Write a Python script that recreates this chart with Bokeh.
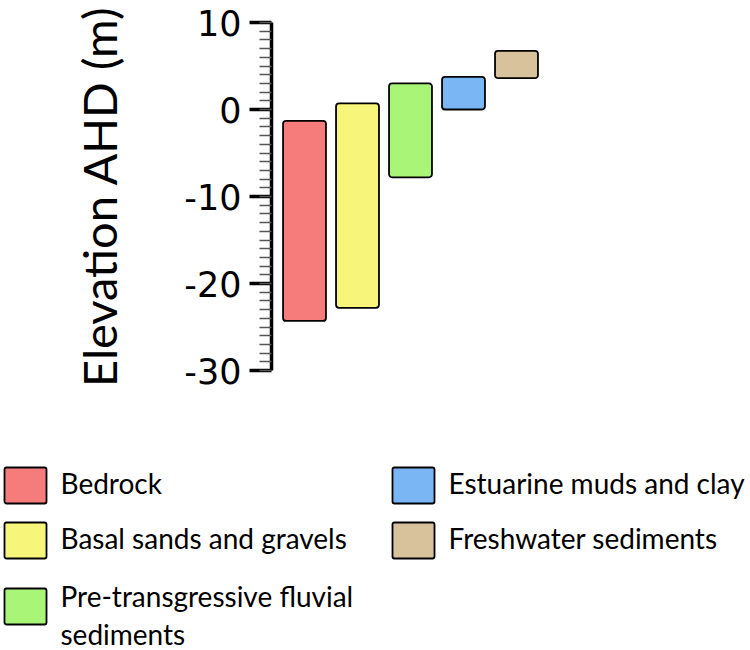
from bokeh.plotting import figure
from bokeh.models import Range1d, FixedTicker
from bokeh.core.properties import value
from bokeh.embed import file_html
from bokeh.resources import INLINE

# ---- data ----
units = ["Bedrock", "Basal sands and gravels", "Pre-transgressive fluvial\nsediments",
         "Estuarine muds and clay", "Freshwater sediments"]
unit_top = [-1.3, 0.7, 3.0, 3.75, 6.75]
unit_bottom = [-24.3, -22.8, -7.8, 0.0, 3.6]
colors = ["#F67B7B", "#F8F67A", "#A8F578", "#7AB6F4", "#D8C29C"]
y_ticks = [-30, -20, -10, 0, 10]
y_minor = list(range(-30, 11))
legend_col = [0, 0, 0, 1, 1]
legend_row = [0, 1, 2, 0, 1]

W = 748
TOP_H = 400
TOTAL_H = 650
FONT = "Lato"

# ---- chart ----
xs = [i + 1 for i in range(len(units))]
p = figure(width=W, height=TOP_H, output_backend="svg", toolbar_location=None,
           x_range=Range1d(0.377, 6.038), y_range=Range1d(-30, 10),
           min_border_left=271, min_border_right=W - 571, min_border_top=22,
           min_border_bottom=TOP_H - 22 - 348)
p.vbar(x=xs, width=0.81, top=unit_top, bottom=unit_bottom, fill_color=colors,
       line_color="black", line_width=1.8, border_radius=3)
p.xaxis.visible = False
p.grid.visible = False
p.outline_line_color = None
ya = p.yaxis[0]
ya.ticker = FixedTicker(ticks=y_ticks, minor_ticks=y_minor)
ya.major_label_overrides = {t: str(t) for t in y_ticks}
ya.axis_line_width = 3.5
ya.axis_line_color = "black"
ya.major_tick_line_width = 3.5
ya.major_tick_in = 0
ya.major_tick_out = 22
ya.minor_tick_in = 0
ya.minor_tick_out = 12
ya.minor_tick_line_width = 1.5
ya.minor_tick_line_color = "#555555"
ya.major_label_standoff = 8
ya.major_label_text_font = "DejaVu Sans"
ya.major_label_text_font_size = "35px"
ya.major_label_text_color = "black"
ya.axis_label = "Elevation AHD (m)"
ya.axis_label_text_font = FONT
ya.axis_label_text_font_style = "normal"
ya.axis_label_text_font_size = "47px"
ya.axis_label_text_color = "black"
ya.axis_label_standoff = 54

# ---- legend ----
LEG_H = TOTAL_H - TOP_H
col_x = [4, 392]
row_y = [67, 122, 188]
box_w, box_h = 42, 36
text_gap = 14
line_step = 38
lx0 = [col_x[c] for c in legend_col]
lx1 = [col_x[c] + box_w for c in legend_col]
ly0 = [row_y[r] for r in legend_row]
ly1 = [row_y[r] + box_h for r in legend_row]

tx, ty, tt = [], [], []
for c, r, u in zip(legend_col, legend_row, units):
    lines = u.split("\n")
    y0 = row_y[r] + box_h / 2 - (11 if len(lines) > 1 else 3)
    for k, line in enumerate(lines):
        tx.append(col_x[c] + box_w + text_gap)
        ty.append(y0 + k * line_step)
        tt.append(line)

lg = figure(width=W, height=LEG_H, output_backend="svg", toolbar_location=None,
            x_range=Range1d(0, W), y_range=Range1d(LEG_H, 0),
            min_border=0)
lg.axis.visible = False
lg.grid.visible = False
lg.outline_line_color = None
lg.quad(left=lx0, right=lx1, top=ly0, bottom=ly1, fill_color=colors,
        line_color="black", line_width=1.8, border_radius=2)
lg.text(x=tx, y=ty, text=tt, text_baseline="middle", text_align="left",
        text_font=value(FONT), text_font_size="28px", text_color="black")

open("out.html", "w").write(file_html([p, lg], INLINE))
